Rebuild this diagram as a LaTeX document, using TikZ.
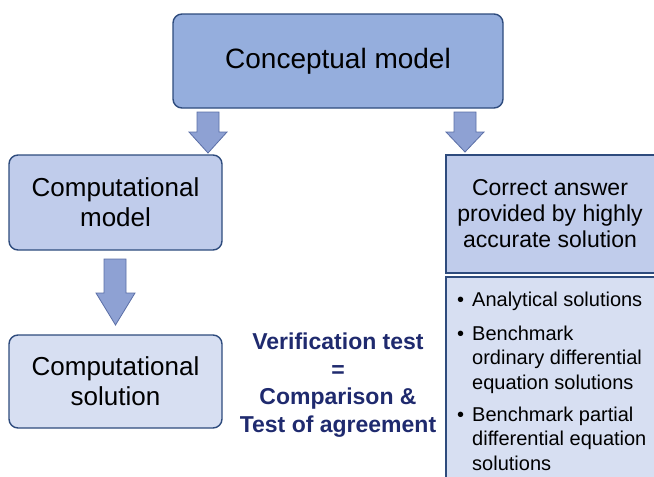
\documentclass[tikz,border=0pt]{standalone}
\usepackage{fontspec}
\setmainfont{Liberation Sans}
\usetikzlibrary{calc}
\definecolor{edge}{HTML}{2E4B7D}
\definecolor{fillA}{HTML}{95AEDD}
\definecolor{fillB}{HTML}{C0CCEB}
\definecolor{fillC}{HTML}{D7DFF2}
\definecolor{arrfill}{HTML}{8EA1D3}
\definecolor{arredge}{HTML}{5A6EA6}
\definecolor{navy}{HTML}{1F2A6E}
\tikzset{
  boxround/.style={draw=edge, line width=1.4pt, rounded corners=9pt, inner sep=0pt},
  boxsq/.style={draw=edge, line width=1.4pt, inner sep=0pt},
  txt/.style={align=center, inner sep=0pt, text=black},
  fatarrow/.style={draw=arredge, fill=arrfill, line width=0.8pt, line join=miter}
}
\begin{document}
\begin{tikzpicture}[x=1pt,y=1pt]
\useasboundingbox (0,0) rectangle (654,-477);
\clip (0,0) rectangle (654,-477);
% boxes
\node[boxround, fill=fillA, minimum width=330pt, minimum height=94pt] (concept) at (338,-61) {};
\node[boxround, fill=fillB, minimum width=213pt, minimum height=95pt] (cmodel) at (115.5,-202.5) {};
\node[boxround, fill=fillC, minimum width=213pt, minimum height=93pt] (csol) at (115.5,-381.5) {};
\node[boxsq, fill=fillB, minimum width=220pt, minimum height=118pt] (correct) at (556,-214) {};
\node[boxsq, fill=fillC, minimum width=220pt, minimum height=212pt] (bench) at (556,-383) {};
% texts
\node[txt, font=\fontsize{28}{32}\selectfont] (tconcept) at (concept.center) {Conceptual model};
\node[txt, font=\fontsize{26}{30}\selectfont] (tcmodel) at (cmodel.center) {Computational\\model};
\node[txt, font=\fontsize{26}{30}\selectfont] (tcsol) at (csol.center) {Computational\\solution};
\node[txt, font=\fontsize{23}{26}\selectfont] (tcorrect) at (550,-214) {Correct answer\\provided by highly\\accurate solution};
\node[txt, text=navy, font=\bfseries\fontsize{23}{27.5}\selectfont] (tverif) at (338,-385) {Verification test\\=\\Comparison \&\\Test of agreement};
% bullets
\begin{scope}[every node/.style={anchor=base west, inner sep=0pt, font=\fontsize{20}{24}\selectfont}]
\node (b1) at (472,-306) {Analytical solutions};
\node (b2) at (472,-340) {Benchmark};
\node (b2b) at (472,-364.5) {ordinary differential};
\node (b2c) at (472,-389) {equation solutions};
\node (b3) at (472,-421) {Benchmark partial};
\node (b3b) at (472,-445.5) {differential equation};
\node (b3c) at (472,-470) {solutions};
\node (d1) at (457,-306) {•};
\node (d2) at (457,-340) {•};
\node (d3) at (457,-421) {•};
\end{scope}
% fat arrows
\draw[fatarrow] (197,-112) -- (219,-112) -- (219,-132) -- (227,-132) -- (208,-153) -- (189,-132) -- (197,-132) -- cycle;
\draw[fatarrow] (454,-112) -- (476,-112) -- (476,-132) -- (484,-132) -- (465,-152) -- (446,-132) -- (454,-132) -- cycle;
\draw[fatarrow] (104,-259) -- (126,-259) -- (126,-293) -- (135,-293) -- (115.5,-325) -- (96,-293) -- (104,-293) -- cycle;
\end{tikzpicture}
\end{document}
